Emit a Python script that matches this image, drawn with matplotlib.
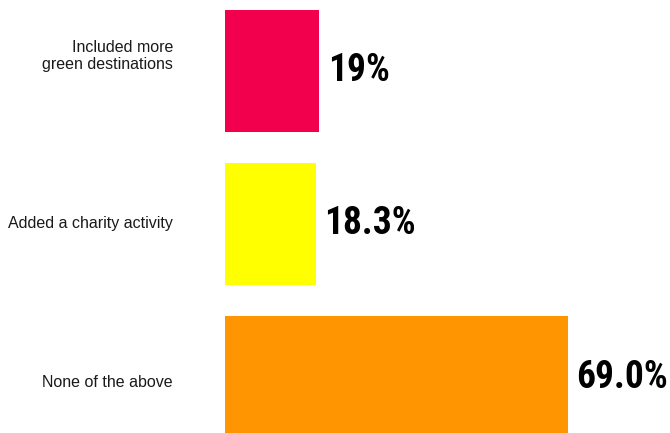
import matplotlib
matplotlib.use("Agg")
import matplotlib.pyplot as plt

categories = ["Included more\ngreen destinations", "Added a charity activity", "None of the above"]
values = [19.0, 18.3, 69.0]
value_labels = ["19%", "18.3%", "69.0%"]
colors = ["#F2004E", "#FFFF00", "#FF9500"]

fig = plt.figure(figsize=(6.7, 4.33), dpi=100)
ax = fig.add_axes([225 / 670, 0, 1 - 225 / 670, 1])
pos = list(range(len(categories)))
ax.barh(pos, values, height=0.8, color=colors, edgecolor="none")
ax.set_xlim(0, 89.5)
ax.set_ylim(2.366, -0.464)
ax.axis("off")

value_fams = ["Roboto Condensed", "Open Sans Condensed", "Liberation Sans Narrow",
              "Liberation Sans", "DejaVu Sans"]
label_dy = [10.8, 0, -4.3]
for i, (lab, v, vl) in enumerate(zip(categories, values, value_labels)):
    ax.annotate(vl, xy=(v, i), xytext=(6, 0), textcoords="offset points",
                ha="left", va="center", fontsize=27, fontweight="bold",
                family=value_fams, color="black")
    ax.annotate(lab, xy=(0, i), xycoords=("axes fraction", "data"),
                xytext=(-37.5, label_dy[i]), textcoords="offset points",
                ha="right", va="center", multialignment="right",
                fontsize=11.5, family=["Liberation Sans", "DejaVu Sans"],
                color="#1a1a1a", linespacing=1.15)

fig.savefig("out.png", dpi=100)
